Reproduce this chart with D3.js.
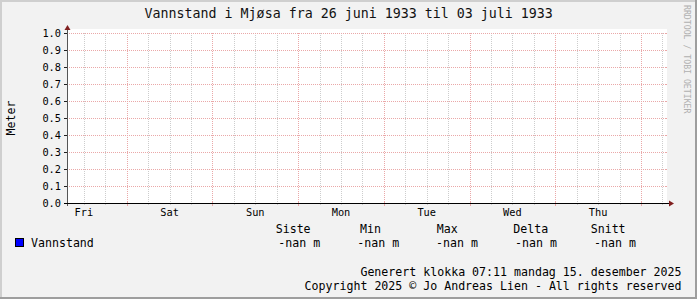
<!DOCTYPE html>
<html><head><meta charset="utf-8">
<script src="https://cdnjs.cloudflare.com/ajax/libs/d3/7.8.5/d3.min.js"></script>
<style>body{margin:0;background:#fff}svg{display:block}</style>
</head><body>
<script>
// ---- data ----
const title = "Vannstand i Mjøsa fra 26 juni 1933 til 03 juli 1933";
const yLabel = "Meter";
const dayLabels = ["Fri","Sat","Sun","Mon","Tue","Wed","Thu"];
const spanHours = 168;          // 7 days shown
const firstMidnight = 16.72;    // hours from start to first midnight
const yTicks = [0,0.1,0.2,0.3,0.4,0.5,0.6,0.7,0.8,0.9,1.0];
const seriesName = "Vannstand";
const seriesValues = [];        // no data (nan)
const statHeaders = ["Siste","Min","Max","Delta","Snitt"];
const statValues = ["-nan m","-nan m","-nan m","-nan m","-nan m"];
const footer1 = "Generert klokka 07:11 mandag 15. desember 2025";
const footer2 = "Copyright 2025 © Jo Andreas Lien - All rights reserved";
const watermark = "RRDTOOL / TOBI OETIKER";

// ---- layout ----
const W = 697, H = 299;
const x0 = 67, x1 = 667, yTop = 33, yBot = 203;
const font = "'DejaVu Sans Mono', monospace";
const C = {back:"#F2F2F2", shadeA:"#CFCFCF", shadeB:"#9E9E9E",
  grid:"#CDCDCD", mgrid:"#EAA8A8",
  arrow:"#801F1F", axis:"#1F1F1F"};

const svg = d3.select("body").append("svg").attr("width",W).attr("height",H);
svg.append("rect").attr("width",W).attr("height",H).attr("fill",C.back);
// 3D frame
svg.append("rect").attr("x",0).attr("y",0).attr("width",W).attr("height",2).attr("fill",C.shadeA);
svg.append("rect").attr("x",0).attr("y",0).attr("width",2).attr("height",H).attr("fill",C.shadeA);
svg.append("rect").attr("x",0).attr("y",H-2).attr("width",W).attr("height",2).attr("fill",C.shadeB);
svg.append("rect").attr("x",W-2).attr("y",0).attr("width",2).attr("height",H).attr("fill",C.shadeB);

const x = d3.scaleLinear().domain([0,spanHours]).range([x0,x1]);
const y = d3.scaleLinear().domain([0,1]).range([yBot,yTop]);

// canvas
svg.append("rect").attr("x",x0).attr("y",yTop-4).attr("width",x1-x0).attr("height",yBot-yTop+4).attr("fill","#fff");

const g = svg.append("g").attr("shape-rendering","crispEdges");
// minor vertical grid every 6h
const minor = d3.range(firstMidnight-12, spanHours, 6).filter(h=>h>0 && Math.abs(((h-firstMidnight)%24+24)%24)>0.01);
const major = d3.range(firstMidnight, spanHours, 24);
minor.forEach(h=>{
  const xx = Math.round(x(h))+0.5;
  g.append("line").attr("x1",xx).attr("x2",xx).attr("y1",yTop).attr("y2",yBot)
    .attr("stroke",C.grid).attr("stroke-dasharray","1,1");
  g.append("line").attr("x1",xx).attr("x2",xx).attr("y1",yBot).attr("y2",yBot+2).attr("stroke",C.grid);
});
// horizontal major grid
yTicks.forEach(v=>{
  const yy = Math.round(y(v))+0.5;
  g.append("line").attr("x1",x0).attr("x2",x1).attr("y1",yy).attr("y2",yy)
    .attr("stroke",C.mgrid).attr("stroke-dasharray","1,1");
  g.append("line").attr("x1",x0-3).attr("x2",x0).attr("y1",yy).attr("y2",yy).attr("stroke",C.axis);
  g.append("line").attr("x1",x1-2).attr("x2",x1).attr("y1",yy).attr("y2",yy).attr("stroke",C.mgrid);
});
major.forEach(h=>{
  const xx = Math.round(x(h))+0.5;
  g.append("line").attr("x1",xx).attr("x2",xx).attr("y1",yTop).attr("y2",yBot)
    .attr("stroke",C.mgrid).attr("stroke-dasharray","1,1");
  g.append("line").attr("x1",xx).attr("x2",xx).attr("y1",yBot-2).attr("y2",yBot+3).attr("stroke",C.mgrid);
});

// series line (empty data -> nothing drawn)
const line = d3.line().defined(d=>d[1]!=null && !isNaN(d[1])).x(d=>x(d[0])).y(d=>y(d[1]));
svg.append("path").datum(seriesValues).attr("d",line).attr("fill","none").attr("stroke","#0000FF");

// axes
g.append("line").attr("x1",x0+0.5).attr("x2",x0+0.5).attr("y1",yBot+3).attr("y2",yTop-5).attr("stroke","#555");
g.append("line").attr("x1",x0-3).attr("x2",x1+3).attr("y1",yBot+0.5).attr("y2",yBot+0.5).attr("stroke","#000");
svg.append("path").attr("d",`M${x0+0.5},${yTop-8} L${x0-2.5},${yTop-3} L${x0+3.5},${yTop-3} Z`).attr("fill",C.arrow);
svg.append("path").attr("d",`M${x1+7},${yBot+0.5} L${x1+2},${yBot-2.5} L${x1+2},${yBot+3.5} Z`).attr("fill",C.arrow);

// y tick labels
svg.append("g").selectAll("text").data(yTicks).join("text")
  .attr("x",61).attr("y",d=>y(d)+3.6).attr("text-anchor","end")
  .attr("font-family",font).attr("font-size","10.3px").attr("fill","#000")
  .text(d=>d.toFixed(1));
// x day labels at noon
svg.append("g").selectAll("text").data(dayLabels).join("text")
  .attr("x",(d,i)=>x(firstMidnight-12+24*i)).attr("y",216).attr("text-anchor","middle")
  .attr("font-family",font).attr("font-size","10.3px").attr("fill","#000")
  .text(d=>d);

// title
svg.append("text").attr("x",348.7).attr("y",18).attr("text-anchor","middle")
  .attr("font-family",font).attr("font-size","13.3px").attr("fill","#111").text(title);
// y label
svg.append("text").attr("transform","translate(15,118) rotate(-90)").attr("text-anchor","middle")
  .attr("font-family",font).attr("font-size","11.6px").text(yLabel);
// watermark
svg.append("text").attr("transform","translate(684,5) rotate(90)")
  .attr("font-family",font).attr("font-size","8.2px").attr("fill","#B0B0B0").text(watermark);

// legend
svg.append("rect").attr("x",15.5).attr("y",238.5).attr("width",8).attr("height",8)
  .attr("fill","#0000FF").attr("stroke","#000");
const lf = "11.6px";
svg.append("text").attr("x",31).attr("y",246.5).attr("font-family",font).attr("font-size",lf).text(seriesName);
const hdrX = [275.7,360,436.7,513.3,590.7];
const valX = [278.3,357.3,436,515,594];
svg.append("g").selectAll("text").data(statHeaders).join("text")
  .attr("x",(d,i)=>hdrX[i]).attr("y",233).attr("font-family",font).attr("font-size",lf).text(d=>d);
svg.append("g").selectAll("text").data(statValues).join("text")
  .attr("x",(d,i)=>valX[i]).attr("y",246.5).attr("font-family",font).attr("font-size",lf).text(d=>d);
svg.append("text").attr("x",681.5).attr("y",276).attr("text-anchor","end").attr("font-family",font).attr("font-size",lf).text(footer1);
svg.append("text").attr("x",681.5).attr("y",289.5).attr("text-anchor","end").attr("font-family",font).attr("font-size",lf).text(footer2);
</script>
</body></html>
